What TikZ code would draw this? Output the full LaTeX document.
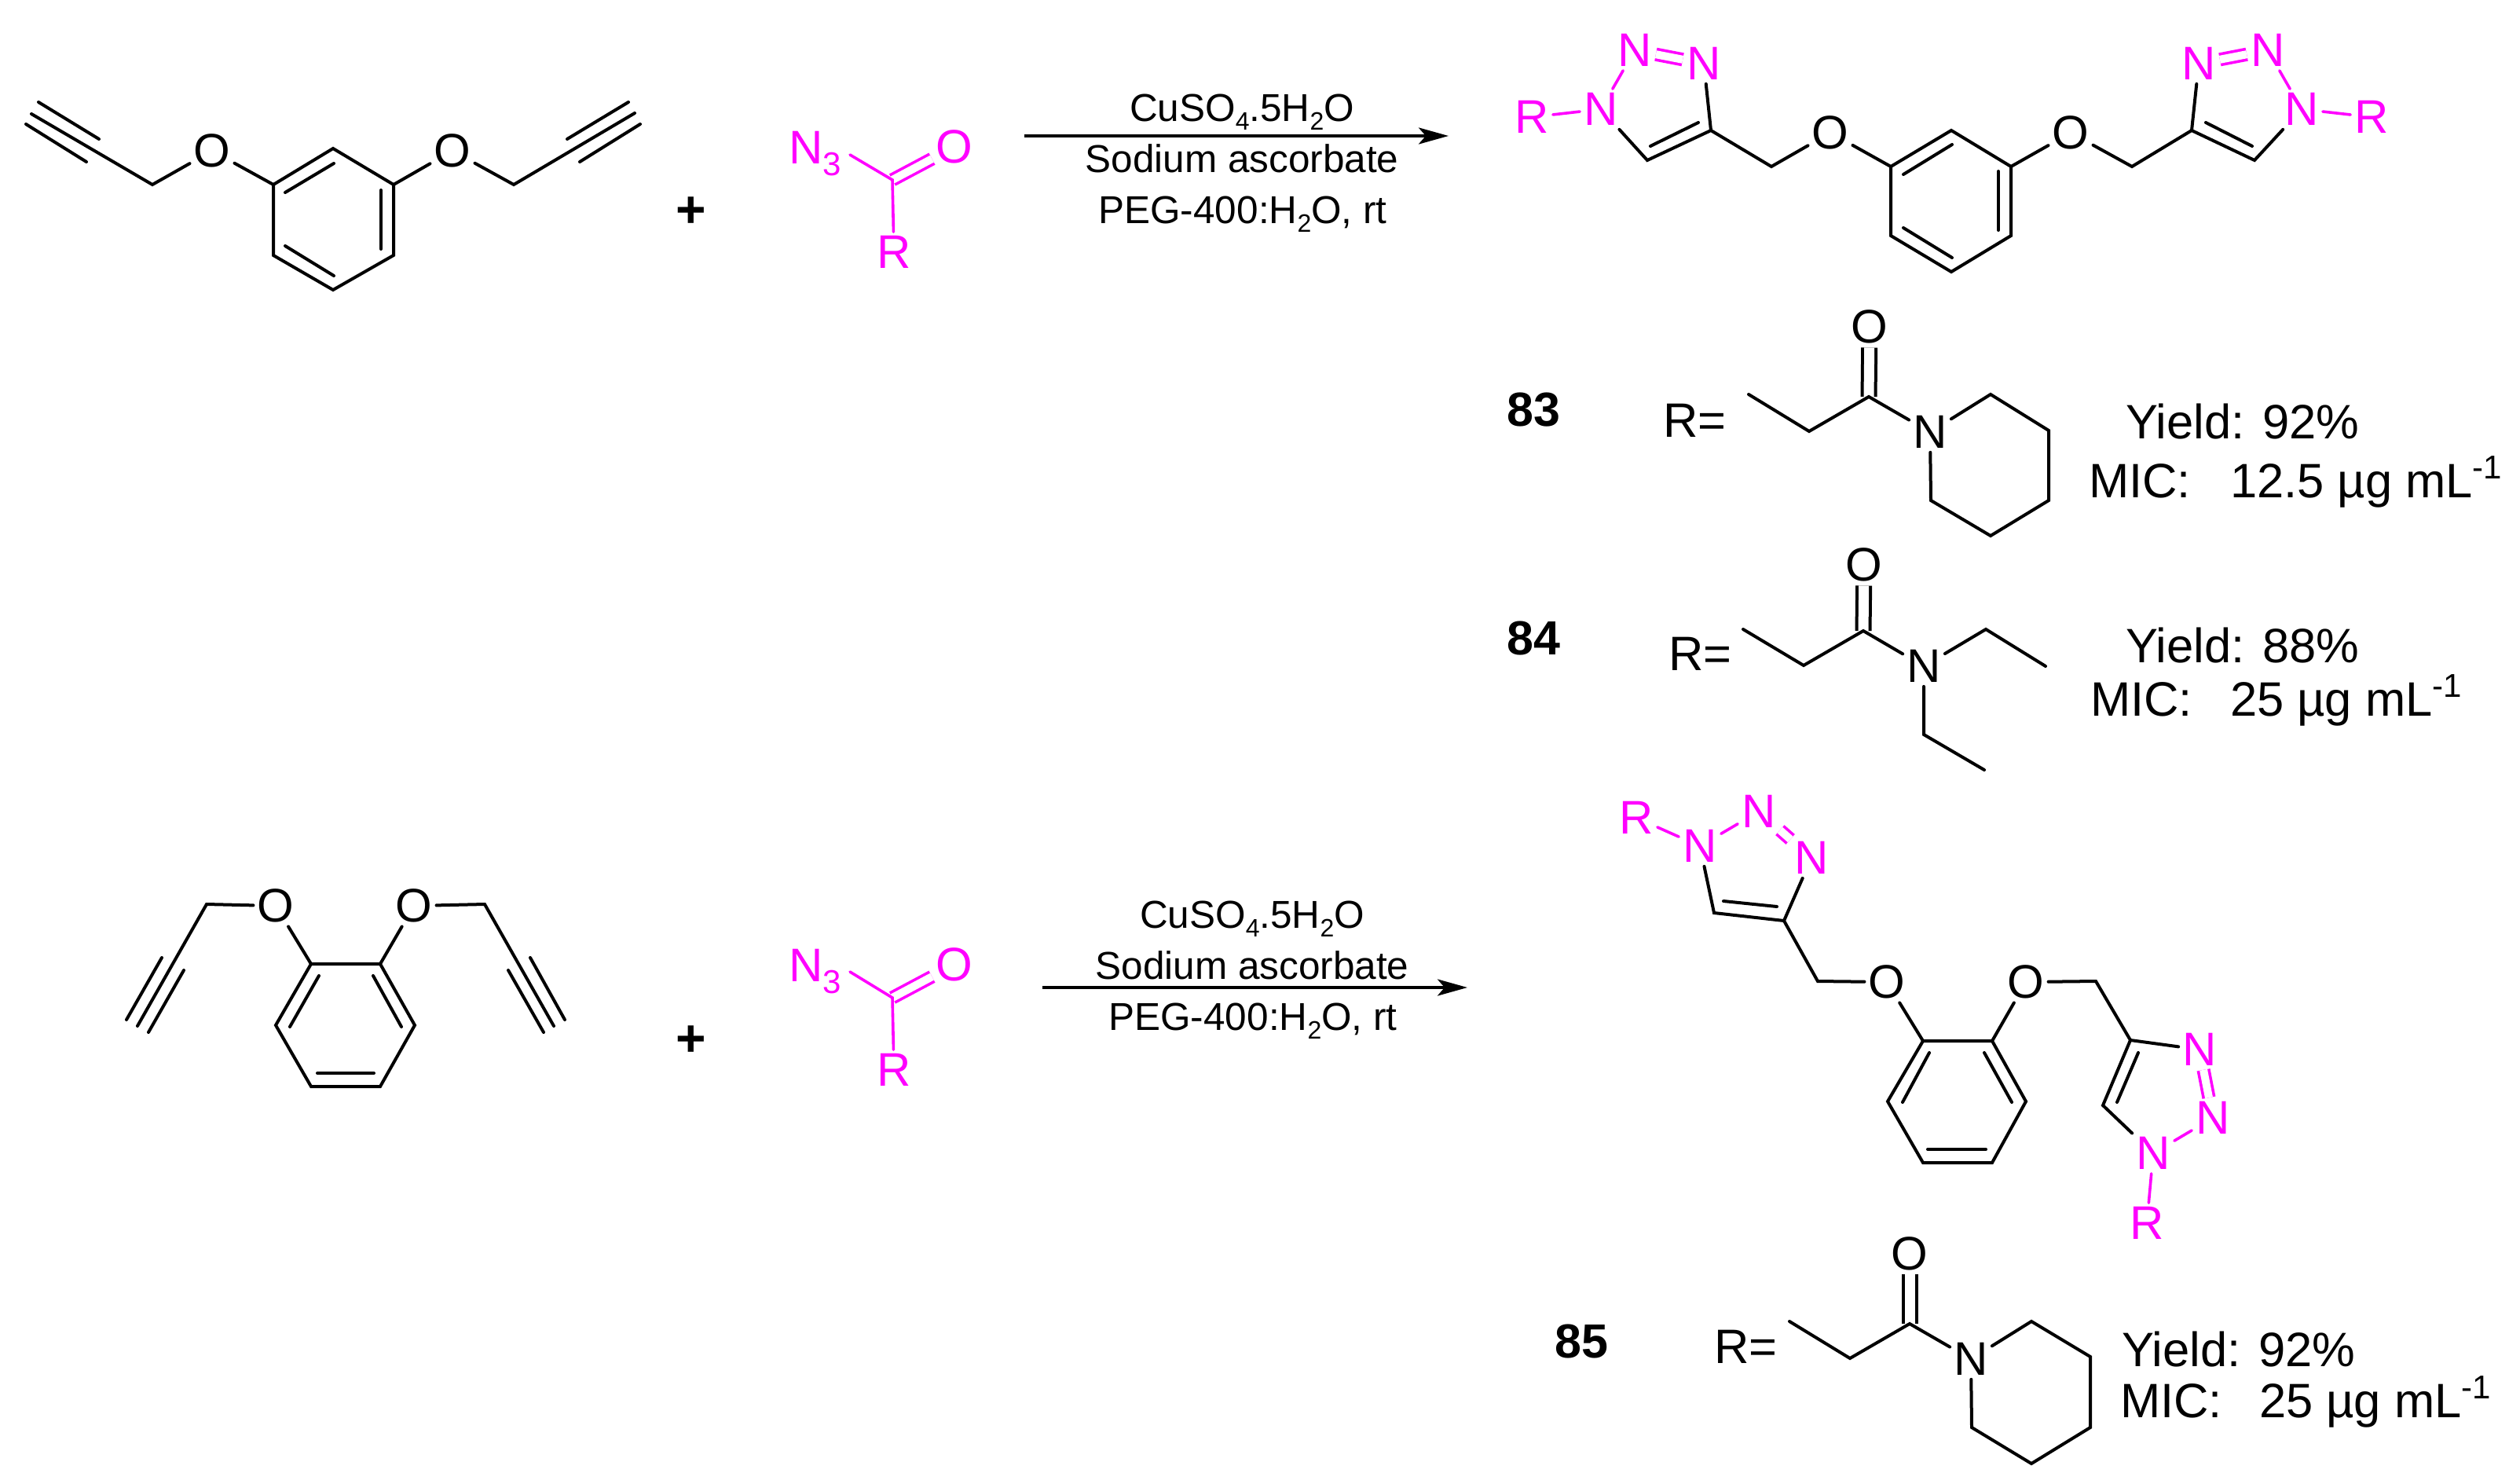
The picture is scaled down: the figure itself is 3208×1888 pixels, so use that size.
\documentclass[tikz,border=0pt]{standalone}
\usepackage{fontspec}
\setmainfont{Liberation Sans}
\usetikzlibrary{arrows.meta}
\definecolor{chemmag}{RGB}{255,0,255}
\newcommand{\chemsub}[3]{\raisebox{-#2pt}{\fontsize{#1}{#1}\selectfont #3}}
\newcommand{\chemsup}[1]{\raisebox{24pt}{\fontsize{42}{42}\selectfont #1}}
\tikzset{
  atomtext/.style={inner sep=5pt,font=\fontsize{60}{72}\selectfont,text=black},
  magatom/.style={atomtext,text=chemmag},
  bond/.style={draw=black,line width=4pt,line cap=round},
  magbond/.style={draw=chemmag,line width=3.6pt,line cap=round},
  dblbond/.style={draw=black,line width=4pt,double=white,double distance=13pt},
  magdbl/.style={draw=chemmag,line width=3.6pt,double=white,double distance=10pt},
  reacttext/.style={inner sep=0pt,anchor=base,font=\fontsize{49.5}{58}\selectfont},
  datatext/.style={inner sep=0pt,anchor=base west,font=\fontsize{61.5}{72}\selectfont},
  idtext/.style={inner sep=0pt,font=\fontsize{61}{72}\selectfont\bfseries},
  plustext/.style={inner sep=0pt,font=\fontsize{66}{72}\selectfont\bfseries},
  rxnarrow/.style={draw=black,line width=4pt,-{Stealth[length=38pt,width=21pt,inset=9pt]}}
}
\newcommand{\segm}[4][bond]{\coordinate (#2-a) at #3;\coordinate (#2-b) at #4;\draw[#1] (#2-a) -- (#2-b);}
\begin{document}
\begin{tikzpicture}[x=1pt,y=-1pt]
\useasboundingbox (0,0) rectangle (3208,1888);

% ===== Reactant 1 (resorcinol dipropargyl ether)
\coordinate (aT) at (424,189);\coordinate (aUR) at (501,235);\coordinate (aLR) at (501,325);
\coordinate (aB) at (424,369);\coordinate (aLL) at (348,325);\coordinate (aUL) at (348,235);
\coordinate (aCL) at (194,235);\coordinate (aCR) at (654,235);
\coordinate (aEL) at (40,145);\coordinate (aER) at (808,144);
\node[atomtext] (aOL) at (270,192) {O};
\node[atomtext] (aOR) at (576,192) {O};
\draw[bond] (aT) -- (aUR) -- (aLR) -- (aB) -- (aLL) -- (aUL) -- cycle;
\draw[bond] (aUL) -- (aOL);
\draw[bond] (aOL) -- (aCL) -- (aEL);
\draw[bond] (aUR) -- (aOR);
\draw[bond] (aOR) -- (aCR) -- (aER);
\segm{aI1}{(363,245)}{(425,208)}
\segm{aI2}{(485,242)}{(485,317)}
\segm{aI3}{(363,313)}{(425,351)}
\segm{aA1}{(49,130)}{(126,177)}
\segm{aA2}{(33,158)}{(110,206)}
\segm{aA3}{(800,130)}{(722,177)}
\segm{aA4}{(815,158)}{(738,206)}
\node[plustext] (plusA) at (880,270) {+};

% ===== Azide reagent 1
\coordinate (bC) at (1136,229);
\coordinate (bNe) at (1082,197);
\node[inner sep=0pt,anchor=base west,font=\fontsize{60}{72}\selectfont,text=chemmag] (bN) at (1004,208) {N\chemsub{42}{15}{3}};
\node[magatom] (bO) at (1215,187) {O};
\node[magatom] (bR) at (1138,321) {R};
\draw[magdbl] (bC) -- (bO);
\draw[magbond] (bNe) -- (bC) -- (bR);

% ===== Arrow 1
\coordinate (arA) at (1304,173);\coordinate (arB) at (1844,173);
\draw[rxnarrow] (arA) -- (arB);
\node[reacttext] (t1a) at (1581,154) {CuSO\chemsub{32}{11}{4}.5H\chemsub{32}{11}{2}O};
\node[reacttext] (t1b) at (1581,219) {Sodium ascorbate};
\node[reacttext] (t1c) at (1582,284) {PEG-400:H\chemsub{32}{11}{2}O, rt};

% ===== Product 1
\coordinate (cT) at (2484,166);\coordinate (cUR) at (2560,212);\coordinate (cLR) at (2560,300);
\coordinate (cB) at (2484,346);\coordinate (cLL) at (2407,300);\coordinate (cUL) at (2407,212);
\coordinate (cCL) at (2255,212);\coordinate (cCR) at (2714,212);
\coordinate (cC4L) at (2178,166);\coordinate (cC5L) at (2097,204);
\coordinate (cC4R) at (2790,166);\coordinate (cC5R) at (2870,204);
\node[atomtext] (cOL) at (2330,169) {O};
\node[atomtext] (cOR) at (2636,169) {O};
\node[magatom] (cN1L) at (2038,139) {N};
\node[magatom] (cN2L) at (2081,64) {N};
\node[magatom] (cN3L) at (2169,81) {N};
\node[magatom] (cRL) at (1950,149) {R};
\node[magatom] (cN1R) at (2930,139) {N};
\node[magatom] (cN2R) at (2887,64) {N};
\node[magatom] (cN3R) at (2799,81) {N};
\node[magatom] (cRR) at (3019,149) {R};
\draw[bond] (cT) -- (cUR) -- (cLR) -- (cB) -- (cLL) -- (cUL) -- cycle;
\draw[bond] (cUL) -- (cOL);
\draw[bond] (cUR) -- (cOR);
\draw[bond] (cOL) -- (cCL) -- (cC4L) -- (cC5L) -- (cN1L);
\draw[bond] (cOR) -- (cCR) -- (cC4R) -- (cC5R) -- (cN1R);
\draw[bond] (cC4L) -- (cN3L);
\draw[bond] (cC4R) -- (cN3R);
\segm{cI1}{(2485,184)}{(2423,222)}
\segm{cI2}{(2544,218)}{(2544,293)}
\segm{cI3}{(2423,290)}{(2485,328)}
\segm{cI4}{(2101,186)}{(2162,156)}
\segm{cI5}{(2808,156)}{(2867,186)}
\draw[magdbl] (cN2L) -- (cN3L);
\draw[magdbl] (cN2R) -- (cN3R);
\draw[magbond] (cN1L) -- (cN2L);
\draw[magbond] (cN1R) -- (cN2R);
\draw[magbond] (cRL) -- (cN1L);
\draw[magbond] (cN1R) -- (cRR);

% ===== Compound 83
\node[idtext] (id83) at (1952,522) {83};
\node[datatext] (r83) at (2117,556) {R=};
\coordinate (d1) at (2226,502);\coordinate (d2) at (2303,549);\coordinate (d3) at (2379,505);
\coordinate (d4) at (2534,502);\coordinate (d5) at (2608,548);\coordinate (d6) at (2608,637);
\coordinate (d7) at (2534,682);\coordinate (d8) at (2458,637);
\node[atomtext] (dO) at (2380,416) {O};
\node[atomtext] (dN) at (2457,550) {N};
\draw[dblbond] (d3) -- (dO);
\draw[bond] (d1) -- (d2) -- (d3) -- (dN);
\draw[bond] (dN) -- (d4) -- (d5) -- (d6) -- (d7) -- (d8) -- (dN);
\node[datatext] (y83) at (2706,558) {Yield: 92\%};
\node[datatext] (m83) at (2659,633) {MIC:\hspace{50pt}12.5 µg mL\chemsup{-1}};

% ===== Compound 84
\node[idtext] (id84) at (1952,812) {84};
\node[datatext] (r84) at (2124,853) {R=};
\coordinate (e1) at (2219,801);\coordinate (e2) at (2296,847);\coordinate (e3) at (2372,803);
\coordinate (e4) at (2528,801);\coordinate (e5) at (2604,848);
\coordinate (e6) at (2449,935);\coordinate (e7) at (2526,980);
\node[atomtext] (eO) at (2373,719) {O};
\node[atomtext] (eN) at (2449,848) {N};
\draw[dblbond] (e3) -- (eO);
\draw[bond] (e1) -- (e2) -- (e3) -- (eN);
\draw[bond] (eN) -- (e4) -- (e5);
\draw[bond] (eN) -- (e6) -- (e7);
\node[datatext] (y84) at (2706,843) {Yield: 88\%};
\node[datatext] (m84) at (2661,911) {MIC:\hspace{48pt}25 µg mL\chemsup{-1}};

% ===== Reactant 2 (catechol dipropargyl ether)
\coordinate (fUL) at (396,1227);\coordinate (fUR) at (484,1227);\coordinate (fR) at (528,1305);
\coordinate (fLR) at (484,1383);\coordinate (fLL) at (396,1383);\coordinate (fL) at (351,1305);
\coordinate (fCL) at (263,1151);\coordinate (fCR) at (617,1151);
\coordinate (fEL) at (175,1306);\coordinate (fER) at (705,1306);
\node[atomtext] (fOL) at (351,1153) {O};
\node[atomtext] (fOR) at (527,1153) {O};
\draw[bond] (fUL) -- (fUR) -- (fR) -- (fLR) -- (fLL) -- (fL) -- cycle;
\draw[bond] (fUL) -- (fOL);
\draw[bond] (fUR) -- (fOR);
\draw[bond] (fOL) -- (fCL) -- (fEL);
\draw[bond] (fOR) -- (fCR) -- (fER);
\segm{fI1}{(406,1242)}{(369,1307)}
\segm{fI2}{(475,1242)}{(511,1307)}
\segm{fI3}{(404,1366)}{(476,1366)}
\segm{fA1}{(206,1219)}{(161,1298)}
\segm{fA2}{(234,1235)}{(189,1314)}
\segm{fA3}{(675,1219)}{(719,1298)}
\segm{fA4}{(647,1235)}{(692,1314)}
\node[plustext] (plusB) at (880,1325) {+};

% ===== Azide reagent 2
\coordinate (gC) at (1136,1270);
\coordinate (gNe) at (1082,1237);
\node[inner sep=0pt,anchor=base west,font=\fontsize{60}{72}\selectfont,text=chemmag] (gN) at (1004,1249) {N\chemsub{42}{15}{3}};
\node[magatom] (gO) at (1215,1228) {O};
\node[magatom] (gR) at (1138,1362) {R};
\draw[magdbl] (gC) -- (gO);
\draw[magbond] (gNe) -- (gC) -- (gR);

% ===== Arrow 2
\coordinate (arC) at (1327,1257);\coordinate (arD) at (1868,1257);
\draw[rxnarrow] (arC) -- (arD);
\node[reacttext] (t2a) at (1594,1181) {CuSO\chemsub{32}{11}{4}.5H\chemsub{32}{11}{2}O};
\node[reacttext] (t2b) at (1594,1246) {Sodium ascorbate};
\node[reacttext] (t2c) at (1595,1311) {PEG-400:H\chemsub{32}{11}{2}O, rt};

% ===== Product 2
\coordinate (hA) at (2448,1325);\coordinate (hB) at (2536,1325);\coordinate (hC) at (2579,1402);
\coordinate (hD) at (2536,1480);\coordinate (hE) at (2448,1480);\coordinate (hF) at (2403,1402);
\coordinate (hCL) at (2314,1249);\coordinate (hCR) at (2668,1249);
\coordinate (hC4L) at (2271,1172);\coordinate (hC5L) at (2182,1162);
\coordinate (hC4R) at (2712,1324);\coordinate (hC5R) at (2677,1407);
\node[atomtext] (hOL) at (2402,1250) {O};
\node[atomtext] (hOR) at (2579,1250) {O};
\node[magatom] (hRL) at (2083,1041) {R};
\node[magatom] (hN1L) at (2164,1077) {N};
\node[magatom] (hN2L) at (2239,1033) {N};
\node[magatom] (hN3L) at (2306,1092) {N};
\node[magatom] (hN3R) at (2800,1336) {N};
\node[magatom] (hN2R) at (2817,1423) {N};
\node[magatom] (hN1R) at (2741,1468) {N};
\node[magatom] (hRR) at (2733,1557) {R};
\draw[bond] (hA) -- (hB) -- (hC) -- (hD) -- (hE) -- (hF) -- cycle;
\draw[bond] (hA) -- (hOL);
\draw[bond] (hB) -- (hOR);
\draw[bond] (hOL) -- (hCL) -- (hC4L) -- (hC5L) -- (hN1L);
\draw[bond] (hC4L) -- (hN3L);
\draw[bond] (hOR) -- (hCR) -- (hC4R) -- (hC5R) -- (hN1R);
\draw[bond] (hC4R) -- (hN3R);
\segm{hI1}{(2456,1340)}{(2422,1403)}
\segm{hI2}{(2526,1340)}{(2561,1403)}
\segm{hI3}{(2454,1463)}{(2528,1463)}
\segm{hI4}{(2194,1147)}{(2262,1154)}
\segm{hI5}{(2722,1340)}{(2695,1403)}
\draw[magdbl] (hN2L) -- (hN3L);
\draw[magdbl] (hN3R) -- (hN2R);
\draw[magbond] (hRL) -- (hN1L);
\draw[magbond] (hN1L) -- (hN2L);
\draw[magbond] (hN2R) -- (hN1R);
\draw[magbond] (hN1R) -- (hRR);

% ===== Compound 85
\node[idtext] (id85) at (2013,1707) {85};
\node[datatext] (r85) at (2182,1735) {R=};
\coordinate (k1) at (2278,1682);\coordinate (k2) at (2355,1729);\coordinate (k3) at (2431,1685);
\coordinate (k4) at (2586,1682);\coordinate (k5) at (2661,1727);\coordinate (k6) at (2661,1817);
\coordinate (k7) at (2586,1863);\coordinate (k8) at (2510,1817);
\node[atomtext] (kO) at (2431,1596) {O};
\node[atomtext] (kN) at (2509,1730) {N};
\draw[dblbond] (k3) -- (kO);
\draw[bond] (k1) -- (k2) -- (k3) -- (kN);
\draw[bond] (kN) -- (k4) -- (k5) -- (k6) -- (k7) -- (k8) -- (kN);
\node[datatext] (y85) at (2701,1739) {Yield: 92\%};
\node[datatext] (m85) at (2699,1804) {MIC:\hspace{47pt}25 µg mL\chemsup{-1}};
\end{tikzpicture}
\end{document}
